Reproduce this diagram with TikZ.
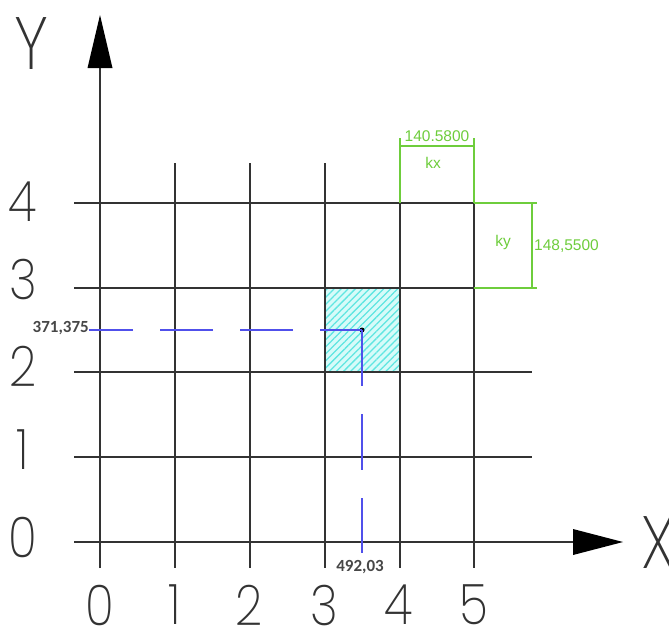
\documentclass[tikz,border=0pt]{standalone}
\usepackage{fontspec}
\usetikzlibrary{patterns.meta}
\newfontfamily\thinf{Poppins ExtraLight}
\newfontfamily\calf{Carlito}
\newfontfamily\arialf{Liberation Sans}
\definecolor{gridc}{HTML}{333333}
\definecolor{dimg}{RGB}{110,205,60}
\definecolor{pblue}{RGB}{80,80,235}
\definecolor{hatchc}{RGB}{95,230,225}
\definecolor{hatchbg}{RGB}{215,251,249}
\begin{document}
\begin{tikzpicture}[x=1pt,y=-1pt,
  gridline/.style={gridc,line width=1.4pt},
  dimline/.style={dimg,line width=1.2pt},
  guideh/.style={pblue,line width=1.4pt,dash pattern=on 53pt off 27pt,dash phase=11pt},
  guidev/.style={pblue,line width=1.4pt,dash pattern=on 56pt off 28pt},
  biglabel/.style={font=\thinf\fontsize{56}{56}\selectfont,inner sep=0pt,text=gridc,xscale=0.85},
  axlabel/.style={font=\thinf\fontsize{74}{74}\selectfont,inner sep=0pt,text=gridc,xscale=0.85},
  coordlabel/.style={font=\calf\bfseries\fontsize{17}{17}\selectfont,inner sep=0pt,text=black!72},
  dimlabel/.style={font=\arialf\fontsize{15.5}{15.5}\selectfont,inner sep=0pt,text=dimg},
  arrowhead/.style={fill=black,draw=none}]
\useasboundingbox (0,0) rectangle (669,630);
\fill[white] (0,0) rectangle (669,630);

% hatched cell
\fill[hatchbg] (325,288) rectangle (400,372);
\fill[pattern={Lines[angle=45,distance=5pt,line width=1.3pt]},pattern color=hatchc] (325,288) rectangle (400,372);

% grid verticals
\foreach \x in {175,250,325,400,474}{
  \draw[gridline] (\x,163) -- (\x,568);
}
% grid horizontals
\foreach \y in {457,372}{
  \draw[gridline] (74,\y) -- (532,\y);
}
\foreach \y in {288,203}{
  \draw[gridline] (74,\y) -- (474,\y);
}

% axes
\coordinate (ybot) at (100,568);
\coordinate (ybase) at (100,68);
\coordinate (ytip) at (100,15);
\coordinate (xleft) at (74,542);
\coordinate (xbase) at (573,542);
\coordinate (xtip) at (623,542);
\draw[gridline] (ybot) -- (ybase);
\draw[gridline] (xleft) -- (xbase);
\fill[arrowhead] (ytip) -- ([xshift=-12.5pt]ybase) -- ([xshift=12.5pt]ybase) -- cycle;
\fill[arrowhead] (xtip) -- ([yshift=-13pt]xbase) -- ([yshift=13pt]xbase) -- cycle;

% dimensions
\draw[dimline] (400,138) -- (400,203);
\draw[dimline] (474,138) -- (474,203);
\draw[dimline] (400,146) -- (474,146);
\draw[dimline] (474,203) -- (537,203);
\draw[dimline] (474,288) -- (537,288);
\draw[dimline] (532,203) -- (532,288);
\node[dimlabel] (kxval) at (437,136) {140.5800};
\node[dimlabel] (kx) at (433,163) {kx};
\node[dimlabel] (ky) at (503,242) {ky};
\node[dimlabel,anchor=west] (kyval) at (534,246) {148,5500};

% point and guides
\node[circle,fill=black,inner sep=0pt,minimum size=5pt] (p) at (362,330) {};
\node[coordlabel,anchor=east] (ylab) at (89,328.5) {371,375};
\node[coordlabel] (xlab) at (360,567) {492,03};
\coordinate (vend) at (362,553);
\draw[guideh] (p.center) -- (p.center -| ylab.east);
\draw[guidev] (p.center) -- (vend);

% axis numbers
\node[biglabel] (x0) at (100,605) {0};
\node[biglabel] (x1) at (175,605) {1};
\node[biglabel] (x2) at (249,605) {2};
\node[biglabel] (x3) at (324,605) {3};
\node[biglabel] (x4) at (399,605) {4};
\node[biglabel] (x5) at (474,605) {5};
\node[biglabel] (y0) at (23,537) {0};
\node[biglabel] (y1) at (23,450) {1};
\node[biglabel] (y2) at (23,366) {2};
\node[biglabel] (y3) at (23,279) {3};
\node[biglabel] (y4) at (23,202) {4};
\node[axlabel] (ylet) at (32,44) {Y};
\node[axlabel] (xlet) at (659,543) {X};
\end{tikzpicture}
\end{document}
